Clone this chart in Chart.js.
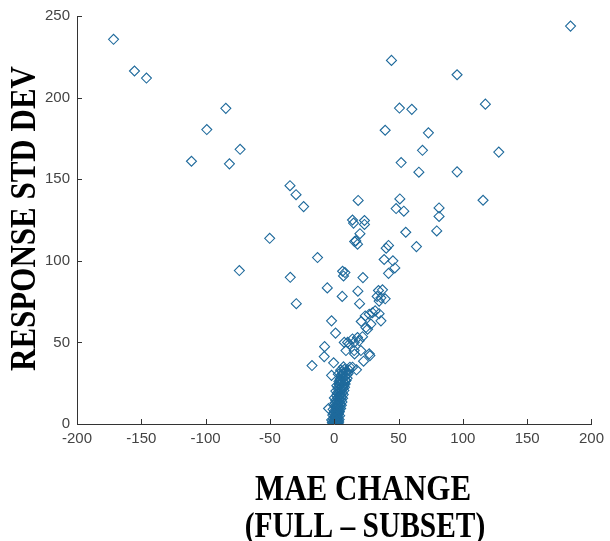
<!DOCTYPE html>
<html lang="en">

<head>
    <meta charset="UTF-8">
    <title>Response std dev vs MAE change</title>
    <script src="https://cdn.jsdelivr.net/npm/chart.js"></script>
    <style>
        body {
            margin: 0;
            background: #fff;
        }

        .graph-container {
            position: relative;
            width: 610px;
            height: 541px;
        }
    </style>
</head>

<body>
    <div class="graph-container">
        <canvas id="std_vs_mae"></canvas>
    </div>
    <script>
        // MAE change (full - subset) for each run
        const maeChange = [
            -171.6, -155.3, -146, -84.3, -99.1, -111, -81.5, -73.2, -34.4, -29.7, -23.8, 18.6, 14.2,
            183.7, 44.5, 95.5, 50.7, 60.3, 117.5, 39.6, 73.2, 68.6, 127.9, 52, 65.8, 95.5, 51, 48.1, 54.1,
            81.5, 81.5, 115.7, 23.5, 15, 23.5, 20, 16.8, 18.1, 55.6, 79.7, 63.9, 42.2, 40.4, -13, 38.8,
            45.6, 47.1, 42.2, 6.5, 8.3, 7.2, 22.3, -5.4, 18.4, 6.2, 19.7, 34.4, 37.5, 33.4, 39.6, 34.9,
            24.1, 31.8, 34.9, 36.3, 21, 25.9, -2.1, 1, 22, 19.4, 10.4, 9.1, -7.5, -7.8, 15.8, 27.7, 22.8,
            -17.3, -0.5, -2.1, 14.2, 17.3, 6.4, 9.1, 3.9, -4.4, -50.2, -73.8, -34.2, -29.5, 15.8,
            27.2, 29.7, 28.5, 24.6, 18.1, 14.2, 7.8, 11.6, 15.5, 27.2, 20.7, 15.5, 36.3,
            // dense group close to the origin
            0.3, 0.8, 1.2, 0.5, 1.5, 2, 0.9, 1.8, 2.5, 1.2, 2.2, 3, 1.5, 2.6, 0.7, 3.2, 2, 3, 1.3, 3.8,
            2.5, 3.5, 1.8, 4.2, 2.8, 4, 2.2, 4.8, 3.3, 4.5, 2.6, 5.2, 3.8, 5, 3, 5.8, 4.3, 5.6, 3.5, 6.3,
            4.8, 6, 4, 6.8, 5.5, 7, 4.6, 7.5, 6, 8, 5.2, 8.5, 7, 9.2, 6.2, 9.8, 1, 0.4, 2.4, 1.7,
            -1.5, -0.8, 3.5, -1.2, 3.8, -0.5, 4.2, 0, 1, 2.8, -2, 0.2, 4, -0.9, 1.6, -0.3, 5, 0.6, 5.5, 1.1,
            6, 0.1, 1.8, 6.5, 2.4, 7, 1.2, 7.5, 3, 8, 2, 8.5, 3.6, 9, 4.5, 10, 5.5, 10.8, 3.2, 11.5,
            8, 5, 7.2, 12.2, 0.5, 2, 3, -1, 1.4, 2.9, 0.2, 2.1
        ];

        // standard deviation of the response for each run
        const responseStd = [
            235.7, 216.3, 212, 193.4, 180.4, 161, 159.4, 168.3, 146, 140.5, 133.2, 137, 125,
            243.8, 222.8, 214, 193.6, 192.8, 196, 180, 178.4, 167.7, 166.6, 160.2, 154.3, 154.5, 137.9, 132, 130.4,
            132.4, 127.2, 137.1, 124.7, 123.1, 122.3, 116.6, 112.2, 110.2, 117.5, 118.3, 108.7, 109.4, 107.7, 102, 100.8,
            100, 95.6, 92.3, 93.6, 92.8, 90.7, 89.7, 83.4, 81.4, 78.2, 73.7, 81.8, 82.2, 78.2, 76.7, 75.3,
            66.2, 69.3, 67.6, 63.2, 62.8, 58.1, 63.2, 55.7, 53.5, 51, 50, 45, 47.4, 41.3, 42.9, 41.9, 38.5,
            35.8, 37.5, 29.8, 34.8, 33.2, 30.8, 26.7, 24.7, 9.5, 113.8, 94, 89.9, 73.7, 111.8,
            67.3, 68.2, 61.2, 59.1, 53, 52.1, 50, 49, 50, 43, 45, 45, 77.3,
            0.5, 1, 0.8, 2, 2.5, 1.5, 3.5, 4, 3, 5, 5.5, 4.5, 6.8, 7.2, 7.5, 6.5, 8.5, 9, 9.8, 8,
            10.5, 11, 11.8, 10, 12.5, 13, 14, 12, 14.8, 15.5, 16, 14.5, 17, 18, 18.5, 16.5, 19.5, 20.5, 21, 19,
            22, 23, 24, 22, 25, 26, 26.5, 24, 28, 29, 29, 27, 31, 32, 32.5, 30, 0.2, 1.5, 0.6, 3.2,
            1, 3, 1.2, 5.5, 2.8, 6.5, 5, 4.5, 6, 5.8, 2.5, 8, 7.5, 9, 10.5, 11.5, 9.5, 13, 11.5, 14.5,
            13.5, 16, 17.5, 15.8, 19, 18, 20.2, 20.5, 22.5, 22.5, 23.5, 24.5, 26, 26.5, 27.5, 28, 30, 31, 30.5, 33,
            33.5, 33, 35, 34.8, 0, 0.2, 0.4, 0.3, 1.3, 2.1, 2.9, 3.9
        ];

        const xTicks = [-200, -150, -100, -50, 0, 50, 100, 150, 200];
        const yTicks = [0, 50, 100, 150, 200, 250];

        const xTitleLines = ['MAE CHANGE', '(FULL \u2013 SUBSET)'];
        const yTitle = 'RESPONSE STD DEV';

        const axisColor = '#333333';
        const titleFont = 'bold 31px "Liberation Serif", "Times New Roman", serif';

        // short tick marks pointing into the plot, like the original figure
        const inwardTicks = {
            id: 'inwardTicks',
            afterDraw(chart) {
                const ctx = chart.ctx;
                const area = chart.chartArea;
                const xs = chart.scales.x;
                const ys = chart.scales.y;
                ctx.save();
                ctx.strokeStyle = axisColor;
                ctx.lineWidth = 1;
                ctx.beginPath();
                xs.ticks.forEach((t, i) => {
                    const px = Math.round(xs.getPixelForTick(i)) + 0.5;
                    ctx.moveTo(px, area.bottom);
                    ctx.lineTo(px, area.bottom - 5);
                });
                ys.ticks.forEach((t, i) => {
                    const py = Math.round(ys.getPixelForTick(i)) + 0.5;
                    ctx.moveTo(area.left, py);
                    ctx.lineTo(area.left + 5, py);
                });
                ctx.stroke();
                ctx.restore();
            }
        };

        // big bold serif axis titles (slightly stretched, as in the paper figure)
        const axisTitles = {
            id: 'axisTitles',
            afterDraw(chart) {
                const ctx = chart.ctx;
                ctx.save();
                ctx.fillStyle = '#000';
                ctx.font = titleFont;
                ctx.textAlign = 'center';
                ctx.textBaseline = 'alphabetic';

                ctx.save();
                ctx.translate(363, 500);
                ctx.scale(1, 1.18);
                ctx.fillText(xTitleLines[0], 0, 0);
                ctx.restore();

                ctx.save();
                ctx.translate(365, 537);
                ctx.scale(0.95, 1.18);
                ctx.fillText(xTitleLines[1], 0, 0);
                ctx.restore();

                ctx.save();
                ctx.translate(35, 218.5);
                ctx.rotate(-Math.PI / 2);
                ctx.scale(1, 1.18);
                ctx.fillText(yTitle, 0, 0);
                ctx.restore();

                ctx.restore();
            }
        };

        const points = maeChange.map((x, i) => ({ x: x, y: responseStd[i] }));

        const ctx = document.getElementById('std_vs_mae').getContext('2d');
        const chart = new Chart(ctx, {
            type: 'scatter',
            data: {
                datasets: [{
                    data: points,
                    pointStyle: 'rectRot',
                    pointRadius: 5,
                    pointBorderWidth: 1.1,
                    pointBorderColor: '#1f6a9c',
                    pointBackgroundColor: 'rgba(0,0,0,0)',
                    pointHoverRadius: 5
                }]
            },
            options: {
                responsive: true,
                maintainAspectRatio: false,
                animation: false,
                events: [],
                layout: {
                    padding: { top: 12, right: 17, left: 0, bottom: 0 }
                },
                plugins: {
                    legend: { display: false },
                    tooltip: { enabled: false }
                },
                scales: {
                    x: {
                        type: 'linear',
                        min: -200,
                        max: 200,
                        afterBuildTicks: scale => {
                            scale.ticks = xTicks.map(v => ({ value: v }));
                        },
                        afterFit: scale => {
                            scale.height = 117;
                        },
                        grid: { display: false, drawTicks: false },
                        border: { display: true, color: axisColor, width: 1 },
                        ticks: {
                            padding: 6,
                            color: '#444444',
                            maxRotation: 0,
                            autoSkip: false,
                            font: { family: '"Liberation Sans", Arial, sans-serif', size: 15 }
                        }
                    },
                    y: {
                        type: 'linear',
                        min: 0,
                        max: 250,
                        afterBuildTicks: scale => {
                            scale.ticks = yTicks.map(v => ({ value: v }));
                        },
                        afterFit: scale => {
                            scale.width = 77;
                        },
                        grid: { display: false, drawTicks: false },
                        border: { display: true, color: axisColor, width: 1 },
                        ticks: {
                            padding: 7,
                            color: '#444444',
                            autoSkip: false,
                            font: { family: '"Liberation Sans", Arial, sans-serif', size: 15 }
                        }
                    }
                }
            },
            plugins: [inwardTicks, axisTitles]
        });
    </script>
</body>

</html>
